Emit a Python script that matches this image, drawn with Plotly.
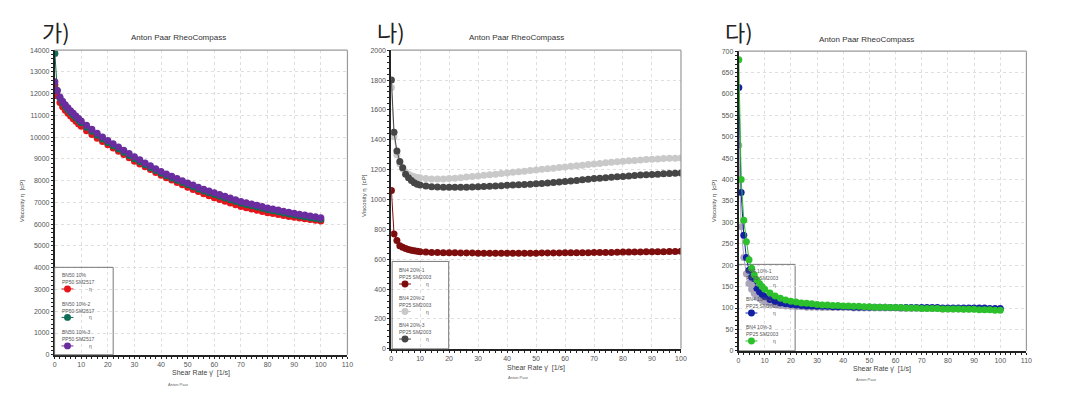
import plotly.graph_objects as go

W, H = 1088, 401

# ---------------- data ----------------
shear_rate = [0.1, 1, 2, 3, 4, 5, 6, 7, 8, 9, 10,
              12, 14, 16, 18, 20, 22, 24, 26, 28, 30, 32, 34, 36, 38, 40,
              42, 44, 46, 48, 50, 52, 54, 56, 58, 60, 62, 64, 66, 68, 70,
              72, 74, 76, 78, 80, 82, 84, 86, 88, 90, 92, 94, 96, 98, 100]

# panel 가)
bn50_1 = [12400, 11900, 11600, 11400, 11240, 11100, 10970, 10850, 10730, 10610, 10500,
          10300, 10120, 9950, 9800, 9650, 9500, 9350, 9200, 9050, 8900, 8770, 8640, 8510, 8380, 8250,
          8140, 8030, 7920, 7810, 7700, 7600, 7500, 7400, 7310, 7220, 7140, 7060, 6980, 6900, 6820,
          6760, 6700, 6640, 6580, 6530, 6490, 6450, 6400, 6360, 6320, 6290, 6250, 6220, 6180, 6150]
bn50_2 = [13850, 12150, 11800, 11580, 11410, 11260, 11130, 11010, 10890, 10770, 10660,
          10460, 10270, 10090, 9920, 9760, 9610, 9460, 9310, 9160, 9010, 8870, 8730, 8600, 8470, 8340,
          8230, 8120, 8020, 7920, 7820, 7720, 7620, 7530, 7450, 7370, 7290, 7210, 7130, 7050, 6970,
          6910, 6850, 6790, 6730, 6670, 6620, 6570, 6520, 6470, 6420, 6380, 6340, 6300, 6260, 6230]
bn50_3 = [12550, 12150, 11850, 11650, 11490, 11350, 11220, 11100, 10980, 10860, 10750,
          10550, 10360, 10180, 10010, 9850, 9700, 9550, 9400, 9250, 9100, 8960, 8820, 8690, 8550, 8420,
          8310, 8200, 8100, 8000, 7900, 7800, 7700, 7610, 7530, 7450, 7370, 7290, 7210, 7130, 7050,
          6990, 6930, 6870, 6810, 6750, 6700, 6650, 6600, 6550, 6500, 6460, 6420, 6380, 6340, 6300]

# panel 나)
bn4_20_1 = [1060, 770, 725, 690, 680, 672, 666, 661, 657, 654, 651,
            648, 646, 645, 644, 643, 643, 642, 642, 642, 641, 641, 641, 641, 641, 641,
            641, 641, 641, 641, 641, 642, 642, 642, 642, 643, 643, 643, 644, 644, 645,
            645, 646, 646, 647, 648, 648, 649, 649, 650, 650, 651, 651, 652, 652, 653]
bn4_20_2 = [1750, 1420, 1300, 1240, 1205, 1185, 1170, 1160, 1153, 1148, 1145,
            1140, 1138, 1137, 1138, 1140, 1143, 1146, 1150, 1154, 1158, 1162, 1166, 1170, 1174, 1178,
            1182, 1186, 1190, 1194, 1198, 1202, 1206, 1210, 1214, 1218, 1222, 1226, 1230, 1234, 1238,
            1242, 1246, 1250, 1253, 1256, 1259, 1262, 1265, 1268, 1270, 1272, 1274, 1276, 1277, 1278]
bn4_20_3 = [1800, 1450, 1325, 1255, 1212, 1170, 1145, 1127, 1113, 1103, 1097,
            1090, 1086, 1084, 1083, 1082, 1082, 1082, 1083, 1084, 1085, 1087, 1089, 1091, 1093, 1095,
            1097, 1099, 1101, 1103, 1105, 1108, 1111, 1114, 1117, 1120, 1124, 1128, 1132, 1136, 1140,
            1143, 1146, 1149, 1152, 1155, 1158, 1161, 1164, 1166, 1168, 1170, 1172, 1174, 1176, 1178]

# panel 다)
bn4_10_1 = [480, 290, 218, 180, 158, 144, 134, 127, 122, 118, 115,
            111, 108, 106, 105, 104, 103, 103, 102, 102, 102, 101, 101, 101, 101, 101,
            101, 100, 100, 100, 100, 100, 100, 100, 100, 100, 99, 99, 99, 99, 99,
            99, 99, 99, 98, 98, 98, 98, 98, 98, 98, 98, 97, 97, 97, 97]
bn4_10_2 = [615, 370, 270, 218, 188, 172, 157, 146, 138, 132, 127,
            120, 115, 112, 110, 108, 107, 106, 105, 105, 104, 104, 104, 103, 103, 103,
            103, 102, 102, 102, 102, 102, 102, 102, 101, 101, 101, 101, 101, 101, 101,
            101, 101, 101, 100, 100, 100, 100, 100, 100, 100, 100, 100, 99, 99, 99]
bn4_10_3 = [680, 400, 305, 255, 213, 193, 178, 166, 157, 150, 144,
            135, 128, 123, 119, 116, 114, 112, 111, 110, 108, 107, 107, 106, 106, 105,
            105, 104, 104, 103, 103, 102, 102, 102, 101, 101, 101, 100, 100, 100, 99,
            99, 99, 99, 98, 98, 98, 98, 97, 97, 97, 96, 96, 96, 95, 95]

panel_labels = ["가)", "나)", "다)"]
legend_names = [
    [("BN50 10%", "PP50 SM2517"), ("BN50 10%-2", "PP50 SM2517"), ("BN50 10%-3", "PP50 SM2517")],
    [("BN4 20%-1", "PP25 SM2003"), ("BN4 20%-2", "PP25 SM2003"), ("BN4 20%-3", "PP25 SM2003")],
    [("BN4 10%-1", "PP25 SM2003"), ("BN4 10%-2", "PP25 SM2003"), ("BN4 10%-3", "PP25 SM2003")],
]
series = [[bn50_1, bn50_2, bn50_3], [bn4_20_1, bn4_20_2, bn4_20_3], [bn4_10_1, bn4_10_2, bn4_10_3]]
colors = [["#e8141c", "#0f6e58", "#6a2c9e"],
          ["#7e0d0d", "#c9c9c9", "#464646"],
          ["#a9a4b8", "#1420a4", "#2cc02c"]]

# ---------------- layout geometry (pixels) ----------------
rects = [(53, 348, 47, 357), (392, 684, 47, 351), (742, 1032, 48, 353)]
xranges = [[0, 110], [0, 100], [0, 110]]
yranges = [[0, 14000], [0, 2000], [0, 700]]
ydticks = [1000, 200, 50]
label_pos = [(38, 27), (376, 27), (726, 27)]
title_pos = [(178, 34), (518, 34), (871, 36)]
xtitle_pos = [(200, 376), (538, 370), (887, 371)]
small_pos = [(178, 387), (520, 380), (871, 382)]
ytitle_pos = [(20, 200), (364, 195), (717, 200)]
legend_box = [(53, 112, 268, 357), (393, 450, 262, 351), (742, 799, 265, 353)]
legend_layer = ["above", "above", "below"]
legend_first = [275, 270, 271]
legend_step = [29, 28, 28.5]

def px(x):
    return x / W

def py(y):
    return 1 - y / H

FONT = "Liberation Sans, Arial, sans-serif"

fig = go.Figure()
layout = dict(
    width=W, height=H, margin=dict(l=0, r=0, t=0, b=0),
    paper_bgcolor="white", plot_bgcolor="white", showlegend=False,
    font=dict(family=FONT, size=7, color="#444"),
)

shapes = []
annotations = []
for i in range(3):
    sfx = "" if i == 0 else str(i + 1)
    L, R, T, B = rects[i]
    layout["xaxis" + sfx] = dict(
        domain=[px(L), px(R)], anchor="y" + sfx, range=xranges[i], dtick=10,
        showgrid=True, gridcolor="#dedede", griddash="dot", gridwidth=1,
        showline=True, linecolor="#222", linewidth=1.5, zeroline=False,
        ticks="outside", ticklen=2, tickcolor="#222",
        minor=dict(dtick=2, ticks="outside", ticklen=2, tickcolor="#222", showgrid=False),
        tickfont=dict(size=7, color="#555"), tickformat="d",
    )
    layout["yaxis" + sfx] = dict(
        domain=[py(B), py(T)], anchor="x" + sfx, range=yranges[i], dtick=ydticks[i],
        showgrid=True, gridcolor="#dedede", griddash="dot", gridwidth=1,
        showline=True, linecolor="#222", linewidth=1.5, zeroline=False,
        ticks="outside", ticklen=2, tickcolor="#222",
        minor=dict(dtick=ydticks[i] / 5, ticks="outside", ticklen=2, tickcolor="#222", showgrid=False),
        tickfont=dict(size=7, color="#555"), tickformat="d",
    )
    for j in range(3):
        fig.add_trace(go.Scatter(
            x=shear_rate, y=series[i][j], mode="lines+markers",
            xaxis="x" + sfx, yaxis="y" + sfx,
            line=dict(color=colors[i][j], width=1),
            marker=dict(color=colors[i][j], size=7, line=dict(width=0)),
            name=legend_names[i][j][0],
        ))
    shapes.append(dict(type="line", xref="paper", yref="paper", x0=px(L), x1=px(R),
                       y0=py(T), y1=py(T), line=dict(color="#9a9a9a", width=1.2)))
    shapes.append(dict(type="line", xref="paper", yref="paper", x0=px(R), x1=px(R),
                       y0=py(T), y1=py(B), line=dict(color="#9a9a9a", width=1.2)))
    annotations.append(dict(text=panel_labels[i], x=px(label_pos[i][0]), y=py(label_pos[i][1]),
                            xref="paper", yref="paper", showarrow=False, xanchor="left", yanchor="middle",
                            font=dict(family="Noto Sans CJK KR", size=22, color="#222")))
    annotations.append(dict(text="Anton Paar RheoCompass", x=px(title_pos[i][0]), y=py(title_pos[i][1]),
                            xref="paper", yref="paper", showarrow=False, xanchor="center", yanchor="middle",
                            font=dict(size=8, color="#333")))
    annotations.append(dict(text="Shear Rate γ̇  [1/s]", x=px(xtitle_pos[i][0]), y=py(xtitle_pos[i][1]),
                            xref="paper", yref="paper", showarrow=False, xanchor="center", yanchor="middle",
                            font=dict(size=7, color="#444")))
    annotations.append(dict(text="Anton Paar", x=px(small_pos[i][0]), y=py(small_pos[i][1]),
                            xref="paper", yref="paper", showarrow=False, xanchor="center", yanchor="middle",
                            font=dict(size=4, color="#666")))
    annotations.append(dict(text="Viscosity η  [cP]", x=px(ytitle_pos[i][0]), y=py(ytitle_pos[i][1]),
                            xref="paper", yref="paper", showarrow=False, textangle=-90,
                            xanchor="center", yanchor="middle", font=dict(size=6, color="#444")))
    lx0, lx1, ly0, ly1 = legend_box[i]
    shapes.append(dict(type="rect", xref="paper", yref="paper", layer=legend_layer[i],
                       x0=px(lx0), x1=px(lx1), y0=py(ly1), y1=py(ly0),
                       line=dict(color="#777", width=1), fillcolor="rgba(255,255,255,0)"))
    for j in range(3):
        yb = legend_first[i] + j * legend_step[i]
        annotations.append(dict(text=legend_names[i][j][0] + "<br>" + legend_names[i][j][1],
                                x=px(lx0 + 5), y=py(yb - 4), xref="paper", yref="paper", showarrow=False,
                                xanchor="left", yanchor="top", align="left",
                                font=dict(size=5, color="#555")))
        my = yb + 15
        shapes.append(dict(type="line", xref="paper", yref="paper", x0=px(lx0 + 7), x1=px(lx0 + 19),
                           y0=py(my), y1=py(my), line=dict(color=colors[i][j], width=1)))
        shapes.append(dict(type="circle", xref="paper", yref="paper",
                           x0=px(lx0 + 13 - 3.5), x1=px(lx0 + 13 + 3.5),
                           y0=py(my + 3.5), y1=py(my - 3.5),
                           fillcolor=colors[i][j], line=dict(width=0)))
        annotations.append(dict(text="η", x=px(lx0 + 36), y=py(my), xref="paper", yref="paper",
                                showarrow=False, xanchor="center", yanchor="middle",
                                font=dict(size=5, color="#555")))

layout["shapes"] = shapes
layout["annotations"] = annotations
fig.update_layout(**layout)
fig.write_html("out.html", config={"displayModeBar": False},
               post_script="document.body.style.margin='0';document.body.style.overflow='hidden';")
